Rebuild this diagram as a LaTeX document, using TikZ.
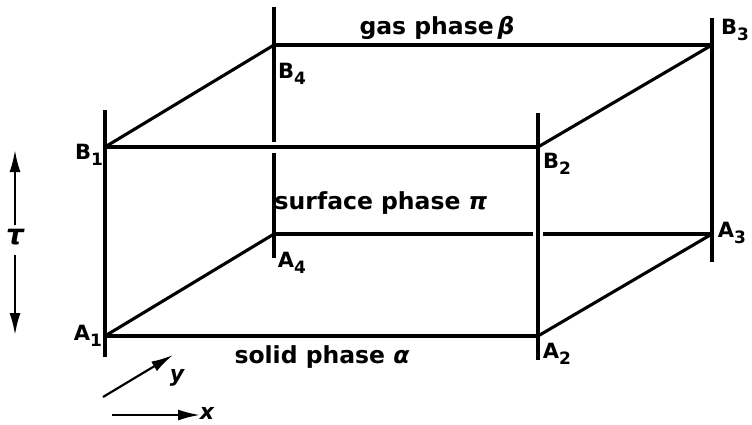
\documentclass[tikz,border=0pt]{standalone}
\usepackage{fontspec}
\setmainfont{DejaVu Sans}
\usetikzlibrary{arrows.meta,calc}
\newcommand{\vlab}[2]{#1\raisebox{-0.3em}{\fontsize{17}{17}\selectfont #2}}
\begin{document}
\begin{tikzpicture}[x=1pt,y=-1pt,
  edge/.style={line width=3.1pt},
  axis/.style={line width=2.2pt,-{Latex[length=22pt,width=11pt]}},
  vtx/.style={font=\fontsize{21}{23}\selectfont\bfseries,inner sep=1pt},
  phase/.style={font=\fontsize{23.5}{26}\selectfont\bfseries,inner sep=1pt},
  ax/.style={font=\fontsize{22}{24}\selectfont\itshape\bfseries,inner sep=1pt}]
\useasboundingbox (0,0) rectangle (752,424);
% vertices
\coordinate (A1) at (105,336);
\coordinate (A2) at (538,336);
\coordinate (A3) at (712,234);
\coordinate (A4) at (274,234);
\coordinate (B1) at (105,147);
\coordinate (B2) at (538,147);
\coordinate (B3) at (712,45);
\coordinate (B4) at (274,45);
% ends of verticals
\coordinate (L1t) at (105,110);
\coordinate (L1b) at (105,357);
\coordinate (L4t) at (274,7);
\coordinate (L4b) at (274,258);
\coordinate (L2t) at (538,113);
\coordinate (L2b) at (538,360);
\coordinate (L3t) at (712,18);
\coordinate (L3b) at (712,262);
% gaps in hidden lines
\coordinate (g4a) at (274,142);
\coordinate (g4b) at (274,153);
\coordinate (g2a) at (533,234);
\coordinate (g2b) at (543,234);
% hidden lines
\draw[edge] (L4t) -- (g4a);
\draw[edge] (g4b) -- (L4b);
\draw[edge] (A4) -- (g2a);
\draw[edge] (g2b) -- (A3);
% front lines
\draw[edge] (L1t) -- (L1b);
\draw[edge] (L2t) -- (L2b);
\draw[edge] (L3t) -- (L3b);
\draw[edge] (B1) -- (B2);
\draw[edge] (A1) -- (A2);
\draw[edge] (B4) -- (B3);
\draw[edge] (A1) -- (A4);
\draw[edge] (A2) -- (A3);
\draw[edge] (B1) -- (B4);
\draw[edge] (B2) -- (B3);
% vertex labels
\node[vtx] (lB1) at (89,155) {\vlab{B}{1}};
\node[vtx] (lA1) at (88,336) {\vlab{A}{1}};
\node[vtx] (lB4) at (292,74) {\vlab{B}{4}};
\node[vtx] (lA4) at (292,263) {\vlab{A}{4}};
\node[vtx] (lB2) at (557,164) {\vlab{B}{2}};
\node[vtx] (lA2) at (557,354) {\vlab{A}{2}};
\node[vtx] (lB3) at (735,30) {\vlab{B}{3}};
\node[vtx] (lA3) at (732,233) {\vlab{A}{3}};
% phase labels
\node[phase] (gas) at (437,28) {gas phase\,{\itshape β}};
\node[phase] (surf) at (381,203) {surface phase {\itshape π}};
\node[phase] (solid) at (322,357) {solid phase {\itshape α}};
% tau arrows
\coordinate (t1) at (15,225);
\coordinate (t1e) at (15,150);
\coordinate (t2) at (15,255);
\coordinate (t2e) at (15,335);
\draw[axis] (t1) -- (t1e);
\draw[axis] (t2) -- (t2e);
\node[ax,font=\fontsize{28}{30}\selectfont\itshape\bfseries] (tau) at (15,237) {τ};
% x, y arrows
\coordinate (y0) at (103,397);
\coordinate (y1) at (173,355);
\draw[axis] (y0) -- (y1);
\node[ax] (ylab) at (177,378) {y};
\coordinate (x0) at (112,415);
\coordinate (x1) at (200,415);
\draw[axis] (x0) -- (x1);
\node[ax] (xlab) at (207,413) {x};
\end{tikzpicture}
\end{document}
